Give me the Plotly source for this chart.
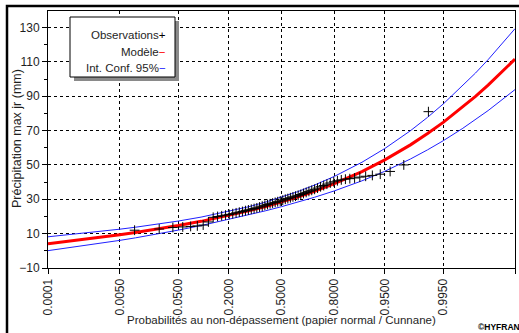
import plotly.graph_objects as go
from statistics import NormalDist

nd = NormalDist()

# ---- data ----
tick_probs = [0.0001, 0.005, 0.05, 0.2, 0.5, 0.8, 0.95, 0.995, 0.9999]
tick_labels = ["0.0001", "0.0050", "0.0500", "0.2000", "0.5000",
               "0.8000", "0.9500", "0.9950", "0.9999"]

curve_probs = [0.0001, 0.0005, 0.001, 0.005, 0.01, 0.02, 0.05, 0.1, 0.2, 0.3,
               0.4, 0.5, 0.6, 0.7, 0.8, 0.9, 0.95, 0.98, 0.99, 0.995, 0.998,
               0.999, 0.9995, 0.9999]
model = [4.13, 5.93, 6.83, 9.33, 10.64, 12.18, 14.69, 17.16, 20.53, 23.26,
         25.82, 28.45, 31.31, 34.69, 39.10, 46.15, 52.92, 61.68, 68.24, 74.78,
         83.41, 89.93, 96.45, 111.58]
lower = [0.10, 2.18, 3.22, 6.07, 7.55, 9.28, 12.05, 14.70, 18.19, 20.88,
         23.30, 25.70, 28.23, 31.15, 34.88, 40.74, 46.30, 53.45, 58.78, 64.09,
         71.08, 76.36, 81.63, 93.85]
upper = [8.16, 9.68, 10.44, 12.59, 13.73, 15.08, 17.33, 19.62, 22.87, 25.64,
         28.34, 31.20, 34.39, 38.23, 43.32, 51.56, 59.54, 69.91, 77.70, 85.47,
         95.74, 103.50, 111.27, 129.31]

observations = [12.0, 12.7, 13.6, 13.9, 14.2, 14.5, 15.0, 16.8, 19.5, 20.0,
                20.4, 20.8, 21.2, 21.6, 22.1, 22.5, 22.9, 23.4, 23.8, 24.2,
                24.6, 25.0, 25.5, 26.0, 26.5, 27.0, 27.4, 27.8, 28.2, 28.6,
                29.0, 29.5, 30.0, 30.4, 30.9, 31.4, 31.8, 32.3, 32.8, 33.4,
                34.0, 34.6, 35.2, 35.8, 36.5, 37.3, 38.0, 38.8, 39.5, 40.2,
                40.8, 41.3, 41.7, 42.0, 42.4, 42.9, 43.4, 43.9, 44.6, 46.2,
                50.0, 81.0]

x_title = "Probabilités au non-dépassement (papier normal / Cunnane)"
y_title = "Précipitation max jr (mm)"

# ---- normal probability paper scale ----
def zq(p):
    return nd.inv_cdf(p)

n = len(observations)
obs_probs = [(i + 1 - 0.4) / (n + 0.2) for i in range(n)]  # Cunnane

FONT = "Liberation Sans, Arial, sans-serif"
TXT = "#1e1e1e"

W, H = 519, 333
ML, MR, MT, MB = 48, 4, 11, 65
PW, PH = W - ML - MR, H - MT - MB

def px(X):
    return (X - ML) / PW

def py(Y):
    return 1 - (Y - MT) / PH

fig = go.Figure()
fig.add_trace(go.Scatter(x=[zq(p) for p in curve_probs], y=upper, mode="lines",
                         line=dict(color="#2020ff", width=1), showlegend=False))
fig.add_trace(go.Scatter(x=[zq(p) for p in curve_probs], y=lower, mode="lines",
                         line=dict(color="#2020ff", width=1), showlegend=False))
fig.add_trace(go.Scatter(x=[zq(p) for p in curve_probs], y=model, mode="lines",
                         line=dict(color="#ff0000", width=3), showlegend=False))
fig.add_trace(go.Scatter(x=[zq(p) for p in obs_probs], y=observations, mode="markers",
                         marker=dict(symbol="cross-thin", size=7,
                                     line=dict(color="black", width=1)),
                         showlegend=False))

fig.update_xaxes(
    range=[zq(0.0001), zq(0.9999)],
    tickmode="array", tickvals=[zq(p) for p in tick_probs], ticktext=tick_labels,
    tickangle=-90, ticks="outside", ticklen=5, tickcolor="black",
    showline=True, linecolor="black", linewidth=1, mirror=True,
    showgrid=True, gridcolor="black", gridwidth=1, griddash="3px,3px",
    zeroline=False, tickfont=dict(family=FONT, size=12, color=TXT),
)
fig.update_yaxes(
    range=[-10, 139.6], tick0=-10, dtick=20,
    ticks="outside", ticklen=5, tickcolor="black",
    minor=dict(dtick=10, tick0=-10, ticks="outside", ticklen=3, tickcolor="black",
               showgrid=False),
    showline=True, linecolor="black", linewidth=1, mirror=True,
    showgrid=True, gridcolor="black", gridwidth=1, griddash="3px,3px",
    zeroline=False, tickfont=dict(family=FONT, size=12, color=TXT),
)

shapes = [
    # outer black frame
    dict(type="rect", xref="paper", yref="paper", x0=px(7), x1=px(540),
         y0=py(345), y1=py(6), line=dict(color="black", width=2.5),
         fillcolor="rgba(0,0,0,0)", layer="above"),
    # legend shadow
    dict(type="rect", xref="paper", yref="paper", x0=px(74), x1=px(179),
         y0=py(81), y1=py(21), line=dict(width=0), fillcolor="#8a8a8a",
         layer="above"),
    # legend box
    dict(type="rect", xref="paper", yref="paper", x0=px(70), x1=px(175),
         y0=py(77), y1=py(17), line=dict(color="black", width=1),
         fillcolor="white", layer="above"),
]

ann = []
legend_rows = [("Observations", "+", "black", 35),
               ("Modèle", "\u2212", "#ff0000", 51.5),
               ("Int. Conf. 95%", "\u2212", "#2020ff", 67.5)]
for label, sym, col, yy in legend_rows:
    ann.append(dict(xref="paper", yref="paper", x=px(168), y=py(yy),
                    xanchor="right", yanchor="middle", showarrow=False,
                    text=f"{label}<span style='color:{col}'>{sym}</span>",
                    font=dict(family=FONT, size=11.5, color=TXT)))
ann.append(dict(xref="paper", yref="paper", x=px(476), y=py(327),
                xanchor="left", yanchor="middle", showarrow=False,
                text="<b>©HYFRAN</b>", font=dict(family=FONT, size=8.5, color="black")))
ann.append(dict(xref="paper", yref="paper", x=px(281.5), y=py(320),
                xanchor="center", yanchor="middle", showarrow=False,
                text=x_title, font=dict(family=FONT, size=11.5, color=TXT)))
ann.append(dict(xref="paper", yref="paper", x=px(17), y=py(139),
                xanchor="center", yanchor="middle", showarrow=False, textangle=-90,
                text=y_title, font=dict(family=FONT, size=12.5, color=TXT)))

fig.update_layout(
    width=W, height=H, margin=dict(l=ML, r=MR, t=MT, b=MB),
    paper_bgcolor="white", plot_bgcolor="white",
    shapes=shapes, annotations=ann, showlegend=False,
)

fig.write_html("out.html")
